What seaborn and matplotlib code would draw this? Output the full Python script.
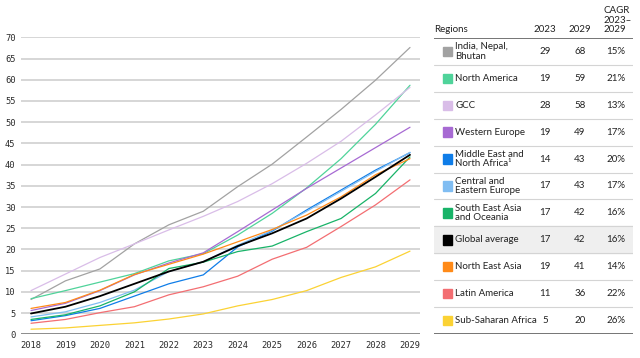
import matplotlib
matplotlib.use("Agg")
import matplotlib.pyplot as plt
import numpy as np
import pandas as pd
import seaborn as sns

years = list(range(2018, 2030))

regions = ["India, Nepal,\nBhutan", "North America", "GCC", "Western Europe",
           "Middle East and\nNorth Africa\u00b9", "Central and\nEastern Europe",
           "South East Asia\nand Oceania", "Global average", "North East Asia",
           "Latin America", "Sub-Saharan Africa"]

india = [8.2, 12.6, 15.4, 21.3, 25.8, 29.0, 34.8, 40.1, 46.5, 53.0, 59.9, 67.6]
north_america = [8.4, 10.3, 12.3, 14.3, 17.3, 19.0, 23.4, 28.5, 34.5, 41.4, 49.5, 58.7]
gcc = [10.3, 14.2, 18.1, 21.3, 24.6, 27.8, 31.3, 35.5, 40.3, 45.5, 51.7, 58.2]
western_europe = [5.6, 7.3, 10.3, 14.0, 16.8, 19.2, 24.2, 29.3, 34.4, 39.2, 44.0, 48.8]
mena = [3.2, 4.4, 6.1, 9.0, 11.9, 14.0, 20.6, 24.3, 29.3, 34.0, 38.7, 42.8]
cee = [4.1, 5.3, 7.5, 10.4, 14.8, 17.1, 21.0, 24.5, 29.0, 33.7, 38.4, 42.9]
sea = [3.5, 4.6, 6.7, 10.0, 15.5, 17.0, 19.5, 20.8, 24.2, 27.3, 33.2, 41.8]
global_avg = [4.9, 6.5, 9.0, 11.9, 14.8, 17.1, 20.8, 23.8, 27.3, 32.0, 37.1, 42.3]
north_east_asia = [6.1, 7.5, 10.4, 14.1, 16.5, 18.9, 21.8, 24.7, 28.1, 32.4, 37.6, 41.4]
latin_america = [2.6, 3.5, 5.1, 6.5, 9.3, 11.2, 13.7, 17.7, 20.5, 25.4, 30.5, 36.4]
ssa = [1.2, 1.5, 2.1, 2.7, 3.6, 4.8, 6.7, 8.2, 10.3, 13.4, 15.9, 19.6]

series = [india, north_america, gcc, western_europe, mena, cee, sea,
          global_avg, north_east_asia, latin_america, ssa]

val_2023 = [29, 19, 28, 19, 14, 17, 17, 17, 19, 11, 5]
val_2029 = [68, 59, 58, 49, 43, 43, 42, 42, 41, 36, 20]
cagr = ["15%", "21%", "13%", "17%", "20%", "17%", "16%", "16%", "14%", "22%", "26%"]

colores = ["#a2a2a2", "#4fd39a", "#d9bde8", "#a76ad3", "#0f7de8", "#80bdf2",
           "#18b368", "#000000", "#ff8a18", "#f36e72", "#fbd234"]

filas = []
for reg, vals in zip(regions, series):
    for y, v in zip(years, vals):
        filas.append({"region": reg, "year": y, "value": v})
df = pd.DataFrame(filas)

sns.set_style("white")
plt.rcParams["font.family"] = ["DejaVu Sans"]

W, H = 640, 358
fig = plt.figure(figsize=(6.4, 3.58), dpi=100)

# chart axes (pixel positions from the reference)
left, right, top, bottom = 21, 420, 37.3, 334.3
ax = fig.add_axes([left / W, 1 - bottom / H, (right - left) / W, (bottom - top) / H])

for y in range(5, 75, 5):
    ax.axhline(y, color="#d0d0d0", lw=1.2, zorder=0)
ax.axhline(0, color="#6e6e6e", lw=1.1, zorder=1)

orden = list(range(len(regions)))
orden.remove(7)
orden.append(7)  # global average on top
for i in orden:
    sub = df[df["region"] == regions[i]]
    sns.lineplot(data=sub, x="year", y="value", ax=ax, color=colores[i],
                 lw=1.3 if i == 7 else 0.9, legend=False, zorder=3 + (i == 7))

ax.set_xlim(2018 - 10 / 34.45, 2029 + 10 / 34.45)
ax.set_ylim(0, 70)
ax.set_xticks(years)
ax.set_yticks(range(0, 75, 5))
ax.set_xlabel("")
ax.set_ylabel("")
mono = {"family": "DejaVu Sans Mono", "size": 6.3, "color": "#2a2a2a"}
ax.set_xticklabels([str(y) for y in years], fontdict=mono)
ax.set_yticklabels([str(y) for y in range(0, 75, 5)], fontdict=mono)
ax.tick_params(axis="both", length=0)
ax.tick_params(axis="y", pad=4)
ax.tick_params(axis="x", pad=5)
for s in ax.spines.values():
    s.set_visible(False)

# table axes
tl, tr = 434, 633
tab = fig.add_axes([tl / W, 1 - bottom / H, (tr - tl) / W, (bottom - 37.7) / H])
tab.set_xlim(tl, tr)
tab.set_ylim(11, 0)
tab.axis("off")

fuente = "Lato"
fs = 7
txt = "#222222"
tab.axhspan(7, 8, color="#efefef", zorder=0)
for k in range(1, 11):
    tab.axhline(k, color="#d4d4d4", lw=0.8, zorder=1)
tab.axhline(0, color="#6a6a6a", lw=1.3, zorder=2)
tab.axhline(11, color="#6a6a6a", lw=1.3, zorder=2)

for i, reg in enumerate(regions):
    yc = i + 0.5
    tab.add_patch(plt.Rectangle((443, yc - 0.17), 9, 0.34, color=colores[i], zorder=3))
    tab.text(455, yc, reg, ha="left", va="center", fontsize=fs, family=fuente,
             color=txt, linespacing=1.12)
    tab.text(545, yc, str(val_2023[i]), ha="center", va="center", fontsize=fs,
             family=fuente, color=txt)
    tab.text(580, yc, str(val_2029[i]), ha="center", va="center", fontsize=fs,
             family=fuente, color=txt)
    tab.text(616, yc, cagr[i], ha="center", va="center", fontsize=fs,
             family=fuente, color=txt)

# header
hy = -(37.7 - 29.3) / 27
tab.text(434, hy, "Regions", ha="left", va="center", fontsize=fs, family=fuente, color=txt)
tab.text(545, hy, "2023", ha="center", va="center", fontsize=fs, family=fuente, color=txt)
tab.text(580, hy, "2029", ha="center", va="center", fontsize=fs, family=fuente, color=txt)
for j, linea in enumerate(["2029", "2023\u2013", "CAGR"]):
    tab.text(603, hy - j * 9.2 / 27, linea, ha="left", va="center", fontsize=fs,
             family=fuente, color=txt)

plt.savefig("out.png", dpi=100)
print("✅ Gráfica guardada como 'out.png'")
